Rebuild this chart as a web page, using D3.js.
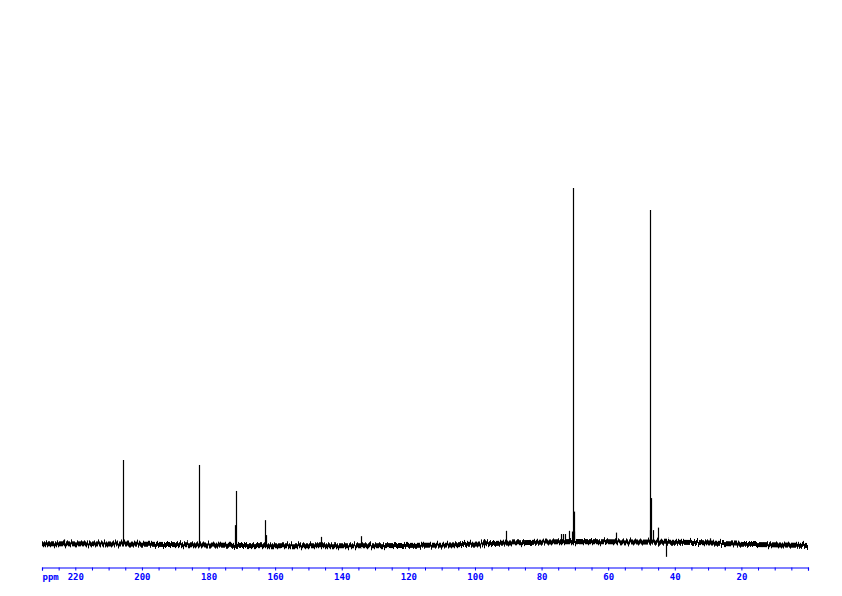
<!DOCTYPE html>
<html>
<head>
<meta charset="utf-8">
<script src="https://cdn.jsdelivr.net/npm/d3@7"></script>
<style>
  html, body { margin: 0; padding: 0; background: #fff; }
  svg { display: block; }
</style>
</head>
<body>
<svg id="chart" width="842" height="596"></svg>
<script>
// ---- data ----
// baseline drift: [ppm, level]
const baselinePpm   = [230, 205, 180, 163, 130, 108, 90, 75, 70, 60, 33, 20, 0];
const baselineLevel = [0.1, 0.0, -0.3, -0.5, -0.5, -0.3, 0.3, 0.6, 0.7, 0.6, 0.4, -0.1, -0.4];
// peaks: position (ppm) and apex level
const peakPpm   = [223.3, 205.6, 182.8, 172.0, 171.7, 163.0, 162.7, 146.3, 134.3, 97.4, 90.8, 74.1, 73.5, 72.9, 71.7, 70.9, 70.6, 70.4, 70.2, 57.6, 47.5, 47.3, 47.0, 46.6, 45.0, 42.6, 29.3];
const peakLevel = [1.3,   23.6,  22.2,  5.3,   14.9,  6.7,   2.5,   2.0,   2.2,   1.4,  3.7,  2.8,  2.8,  2.8,  3.7,  3.5,  100,  9.1,  3.5,  3.2,  3.9,  93.8, 12.9, 3.9,  4.6,  -3.6, 1.6];
// axis
const tickPpm   = d3.range(0, 231, 5);
const labelPpm  = [220, 200, 180, 160, 140, 120, 100, 80, 60, 40, 20];
const axisUnit  = "ppm";

// ---- scales ----
const x = d3.scaleLinear().domain([230, 0]).range([42, 808]);
const y = d3.scaleLinear().domain([0, 100]).range([544, 188]);
const base = d3.scaleLinear().domain(baselinePpm).range(baselineLevel);

const svg = d3.select("#chart");

// texture filter for the baseline noise band (visual style only)
const defs = svg.append("defs");
const f = defs.append("filter").attr("id", "noise")
  .attr("filterUnits", "userSpaceOnUse")
  .attr("x", 40).attr("y", 500).attr("width", 770).attr("height", 80);
f.append("feTurbulence").attr("type", "fractalNoise")
  .attr("baseFrequency", "0.7 0.002").attr("numOctaves", 2).attr("seed", 5).attr("result", "t");
f.append("feColorMatrix").attr("in", "t").attr("type", "matrix")
  .attr("values", "0 0 0 0 0.5  0 1 0 0 0  0 0 0 0 0  0 0 0 0 1").attr("result", "m");
f.append("feDisplacementMap").attr("in", "SourceGraphic").attr("in2", "m")
  .attr("scale", 8).attr("xChannelSelector", "R").attr("yChannelSelector", "G");

// baseline (noise band)
const basePts = baselinePpm.map((p, i) => [p, baselineLevel[i]]);
svg.append("path")
  .datum(basePts)
  .attr("fill", "none")
  .attr("stroke", "#000")
  .attr("stroke-width", 5)
  .attr("filter", "url(#noise)")
  .attr("d", d3.line().x(d => x(d[0])).y(d => y(d[1])));

// peaks
const peaks = peakPpm.map((p, i) => ({ppm: p, level: peakLevel[i]}));
svg.append("g")
  .selectAll("line")
  .data(peaks)
  .join("line")
  .attr("x1", d => Math.round(x(d.ppm)) + 0.5)
  .attr("x2", d => Math.round(x(d.ppm)) + 0.5)
  .attr("y1", d => y(base(d.ppm)))
  .attr("y2", d => y(d.level))
  .attr("stroke", "#000")
  .attr("stroke-width", 1.2);

// axis
const axis = d3.axisBottom(x)
  .tickValues(tickPpm)
  .tickSize(3)
  .tickPadding(3)
  .tickFormat(d => labelPpm.includes(d) ? String(d) : "");
const gAxis = svg.append("g")
  .attr("transform", "translate(0,567.5)")
  .call(axis);
gAxis.select(".domain").attr("stroke", "#0000ff").attr("stroke-width", 1.2);
gAxis.selectAll(".tick line").attr("stroke", "#0000ff");
gAxis.selectAll(".tick text")
  .attr("fill", "#0000ff")
  .attr("font-family", "'DejaVu Sans Mono', monospace")
  .attr("font-size", "9px")
  .attr("font-weight", "bold");
gAxis.append("text")
  .attr("x", 42.5)
  .attr("y", 6)
  .attr("dy", "0.71em")
  .attr("text-anchor", "start")
  .attr("fill", "#0000ff")
  .attr("font-family", "'DejaVu Sans Mono', monospace")
  .attr("font-size", "9px")
  .attr("font-weight", "bold")
  .text(axisUnit);
</script>
</body>
</html>
